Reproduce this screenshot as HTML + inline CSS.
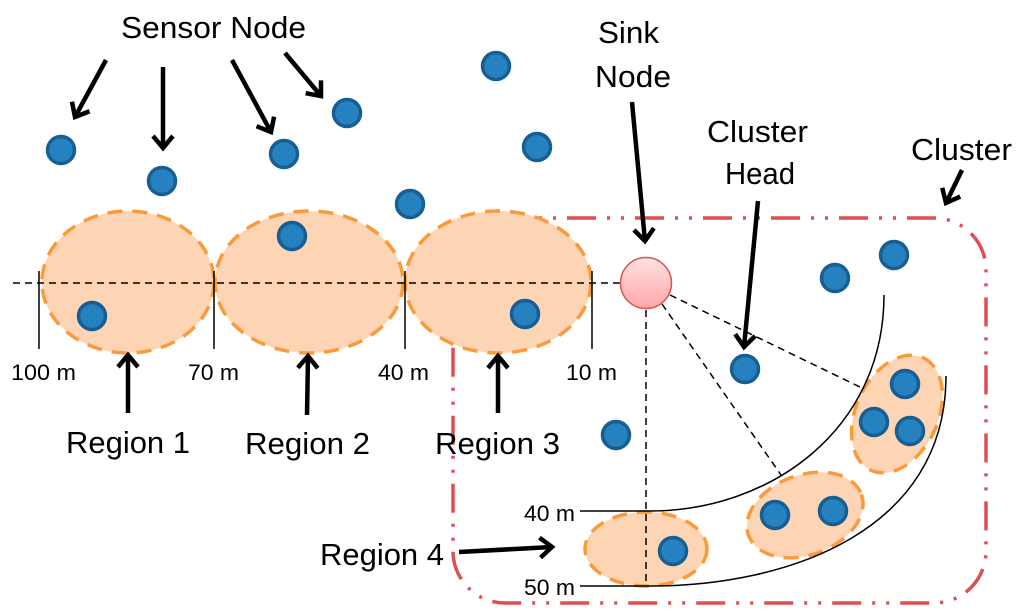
<!DOCTYPE html>
<html><head><meta charset="utf-8"><style>
html,body{margin:0;padding:0;background:#fff}
svg{display:block}
text{font-family:"Liberation Sans",sans-serif;fill:#000}
.b{font-size:31px}
.s{font-size:22.5px}
</style></head><body>
<svg width="1024" height="616" viewBox="0 0 1024 616" xmlns="http://www.w3.org/2000/svg">
<defs>
<linearGradient id="g" x1="0" y1="0" x2="0" y2="1"><stop offset="0" stop-color="#ffe2e2"/><stop offset="1" stop-color="#ffa6a8"/></linearGradient>
<marker id="a" markerUnits="userSpaceOnUse" markerWidth="26" markerHeight="26" refX="19" refY="13" orient="auto"><path d="M7 3L19 13L7 23" fill="none" stroke="#000" stroke-width="4.5"/></marker>
</defs>

<rect x="453" y="218" width="533" height="385" rx="52" ry="52" fill="none" stroke="#dd4f50" stroke-width="3.5" stroke-dasharray="29 11 3 11 3 11" stroke-dashoffset="6"/>

<g fill="#fdd5b4" stroke="#fb9a3a" stroke-width="3.5" stroke-dasharray="15 10">
<ellipse cx="128" cy="282" rx="86" ry="71"/>
<ellipse cx="309" cy="282" rx="94" ry="71"/>
<ellipse cx="498" cy="282" rx="93" ry="71"/>
<ellipse cx="646" cy="549" rx="61" ry="37"/>
<ellipse cx="805" cy="515" rx="60" ry="40" transform="rotate(-20 805 515)"/>
<ellipse cx="897" cy="414" rx="62" ry="41" transform="rotate(-65 897 414)"/>
</g>

<g fill="none" stroke="#000" stroke-width="1.5">
<path d="M39 271V349M214 271V349M405 271V349M592 271V349"/>
<path d="M580 511H650C770 511 884 430 884 295"/>
<path d="M580 586H650C790 586 946 530 946 376"/>
<g stroke-dasharray="7 5">
<path d="M13 283H620"/>
<path d="M646 310V586"/>
<path d="M662 304L781 475"/>
<path d="M670 295L862 388"/>
</g>
</g>

<g fill="#2681c1" stroke="#175e92" stroke-width="3.5">
<circle cx="61" cy="150" r="13.5"/><circle cx="162" cy="181" r="13.5"/>
<circle cx="284" cy="154" r="13.5"/><circle cx="347" cy="113" r="13.5"/>
<circle cx="496" cy="66" r="13.5"/><circle cx="537" cy="147" r="13.5"/>
<circle cx="410" cy="204" r="13.5"/><circle cx="292" cy="236" r="13.5"/>
<circle cx="92" cy="316" r="13.5"/><circle cx="525" cy="314" r="13.5"/>
<circle cx="835" cy="278" r="13.5"/><circle cx="894" cy="255" r="13.5"/>
<circle cx="745" cy="369" r="13.5"/><circle cx="616" cy="435" r="13.5"/>
<circle cx="905" cy="384" r="13.5"/><circle cx="874" cy="422" r="13.5"/>
<circle cx="910" cy="431" r="13.5"/><circle cx="775" cy="515" r="13.5"/>
<circle cx="833" cy="511" r="13.5"/><circle cx="673" cy="551" r="13.5"/>
</g>

<circle cx="646" cy="283" r="25.5" fill="url(#g)" stroke="#dd4f50" stroke-width="1.5"/>

<g fill="none" stroke="#000" stroke-width="4.5" marker-end="url(#a)">
<path d="M106 60L75 117"/>
<path d="M163 67V148"/>
<path d="M232 60L271 132"/>
<path d="M285 53L321 96"/>
<path d="M632 102L645 241"/>
<path d="M758 201L744 347"/>
<path d="M962 170L946 203"/>
<path d="M128 413V355"/>
<path d="M307 415L308 356"/>
<path d="M498 413V356"/>
<path d="M459 552L552 547"/>
</g>

<g class="b">
<text class="b" x="121" y="38" textLength="185" lengthAdjust="spacingAndGlyphs">Sensor Node</text>
<text class="b" x="598" y="43" textLength="61" lengthAdjust="spacingAndGlyphs">Sink</text>
<text class="b" x="595" y="87" textLength="76" lengthAdjust="spacingAndGlyphs">Node</text>
<text class="b" x="707" y="142" textLength="101" lengthAdjust="spacingAndGlyphs">Cluster</text>
<text class="b" x="725" y="184" textLength="70" lengthAdjust="spacingAndGlyphs">Head</text>
<text class="b" x="911" y="160" textLength="101" lengthAdjust="spacingAndGlyphs">Cluster</text>
<text class="b" x="66" y="453" textLength="124" lengthAdjust="spacingAndGlyphs">Region 1</text>
<text class="b" x="245" y="454" textLength="125" lengthAdjust="spacingAndGlyphs">Region 2</text>
<text class="b" x="435" y="454" textLength="125" lengthAdjust="spacingAndGlyphs">Region 3</text>
<text class="b" x="320" y="565" textLength="124" lengthAdjust="spacingAndGlyphs">Region 4</text>
</g>
<g>
<text class="s" x="11" y="380" textLength="65" lengthAdjust="spacingAndGlyphs">100 m</text>
<text class="s" x="188" y="380" textLength="51" lengthAdjust="spacingAndGlyphs">70 m</text>
<text class="s" x="378" y="380" textLength="51" lengthAdjust="spacingAndGlyphs">40 m</text>
<text class="s" x="566" y="380" textLength="51" lengthAdjust="spacingAndGlyphs">10 m</text>
<text class="s" x="524" y="521" textLength="51" lengthAdjust="spacingAndGlyphs">40 m</text>
<text class="s" x="524" y="595" textLength="51" lengthAdjust="spacingAndGlyphs">50 m</text>
</g>
</svg>
</body></html>
